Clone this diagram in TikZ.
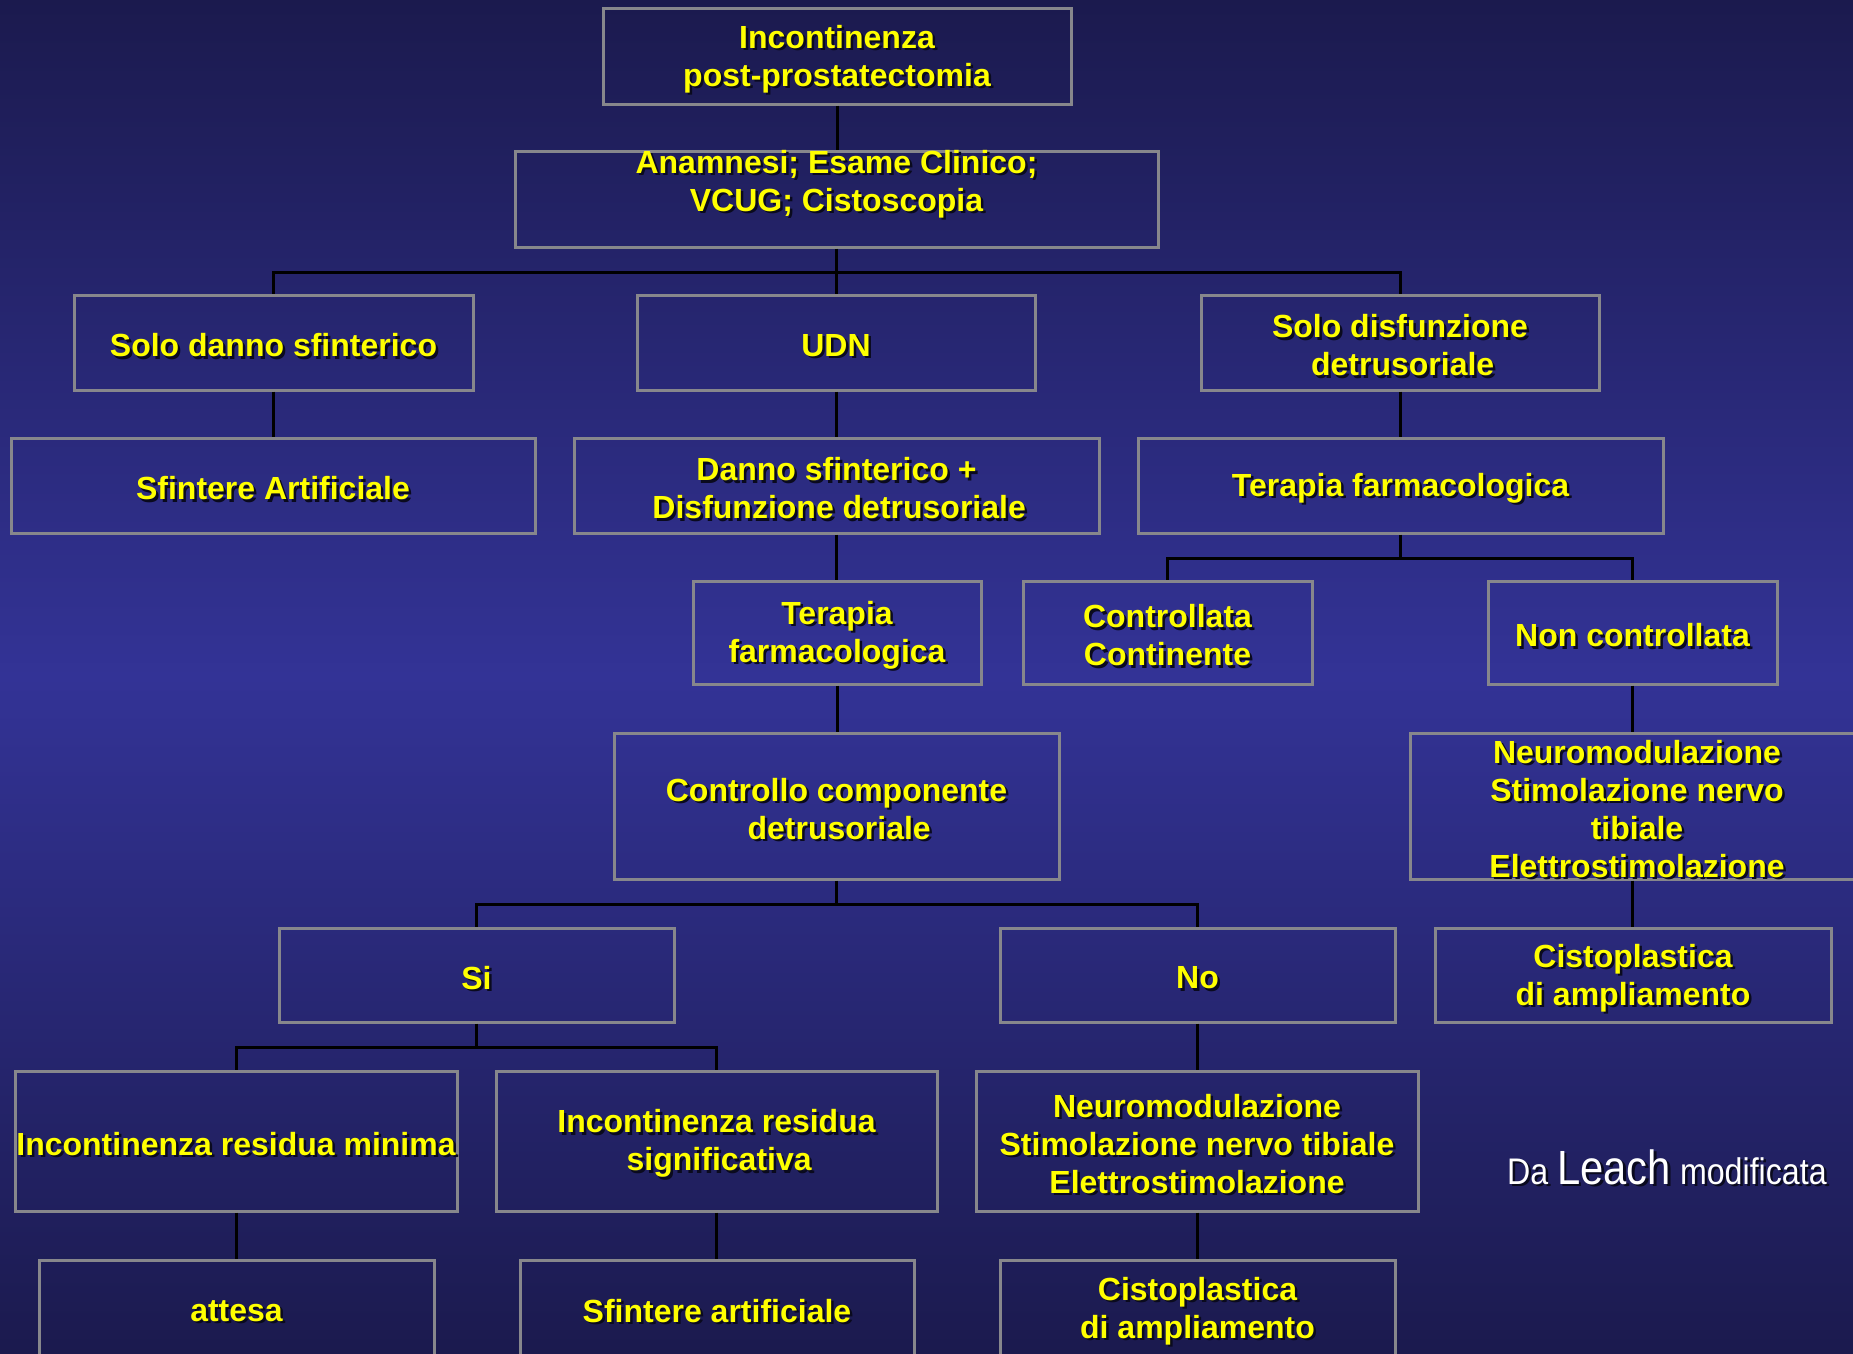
\documentclass[tikz,border=0pt]{standalone}
\usepackage{fontspec}
\setmainfont{Liberation Sans}
\newfontfamily\narrowfont[FakeStretch=0.87]{Liberation Sans}
\definecolor{bgtop}{RGB}{27,26,78}
\definecolor{bgmid}{RGB}{51,51,150}
\definecolor{bgbot}{RGB}{27,26,78}
\definecolor{boxgray}{RGB}{135,135,140}
\definecolor{textyellow}{RGB}{255,255,0}
\definecolor{shadowc}{RGB}{10,10,30}
\newcommand\sh[1]{\leavevmode\rlap{\hspace{2.5pt}\raisebox{-2.5pt}{\textcolor{shadowc}{#1}}}#1}
\begin{document}
\begin{tikzpicture}[x=1pt,y=-1pt,
  bx/.style={draw=boxgray,line width=3pt,inner sep=0pt},
  txt/.style={text=textyellow,font=\bfseries\fontsize{32}{38}\selectfont,align=center,inner sep=0pt,yshift=-4pt},
  con/.style={draw=black,line width=3pt}]
\useasboundingbox (0,0) rectangle (1853,1353);
\clip (0,0) rectangle (1853,1353);
\shade[top color=bgtop,bottom color=bgbot,middle color=bgmid] (0,0) rectangle (1853,1353);

% boxes
\node[bx,minimum width=468,minimum height=96,label={[txt]center:{\sh{Incontinenza}\\\sh{post-prostatectomia}}}] (top) at (837,56) {};
\node[bx,minimum width=643,minimum height=96,label={[txt,yshift=18pt]center:{\sh{Anamnesi; Esame Clinico;}\\\sh{VCUG; Cistoscopia}}}] (an) at (836.5,199) {};
\node[bx,minimum width=399,minimum height=95,label={[txt]center:{\sh{Solo danno sfinterico}}}] (sd) at (273.5,342.5) {};
\node[bx,minimum width=398,minimum height=95,label={[txt]center:{\sh{UDN}}}] (udn) at (836,342.5) {};
\node[bx,minimum width=398,minimum height=95,label={[txt]center:{\sh{Solo disfunzione}\\\sh{\,detrusoriale}}}] (sdis) at (1400,342.5) {};
\node[bx,minimum width=524,minimum height=95,label={[txt]center:{\sh{Sfintere Artificiale}}}] (sa) at (273,485.5) {};
\node[bx,minimum width=525,minimum height=95,label={[txt]center:{\sh{Danno sfinterico +}\\\sh{\,Disfunzione detrusoriale}}}] (dsd) at (836.5,485.5) {};
\node[bx,minimum width=525,minimum height=95,label={[txt]center:{\sh{Terapia farmacologica}}}] (tfr) at (1400.5,485.5) {};
\node[bx,minimum width=288,minimum height=103,label={[txt]center:{\sh{Terapia}\\\sh{farmacologica}}}] (tfc) at (837,632.5) {};
\node[bx,minimum width=289,minimum height=103,label={[txt]center:{\sh{Controllata}\\\sh{Continente}}}] (cc) at (1167.5,632.5) {};
\node[bx,minimum width=289,minimum height=103,label={[txt]center:{\sh{Non controllata}}}] (nc) at (1632.5,632.5) {};
\node[bx,minimum width=445,minimum height=146,label={[txt]center:{\sh{Controllo componente}\\\sh{\,detrusoriale}}}] (ccd) at (836.5,806) {};
\node[bx,minimum width=454,minimum height=146,label={[txt]center:{\sh{Neuromodulazione}\\\sh{Stimolazione nervo}\\\sh{tibiale}\\\sh{Elettrostimolazione}}}] (nm) at (1637,806) {};
\node[bx,minimum width=395,minimum height=94,label={[txt]center:{\sh{Si}}}] (si) at (476.5,975) {};
\node[bx,minimum width=395,minimum height=94,label={[txt]center:{\sh{No}}}] (no) at (1197.5,975) {};
\node[bx,minimum width=396,minimum height=94,label={[txt]center:{\sh{Cistoplastica}\\\sh{di ampliamento}}}] (cisr) at (1633,975) {};
\node[bx,minimum width=442,minimum height=140,label={[txt]center:{\sh{Incontinenza residua minima}}}] (irm) at (236,1141) {};
\node[bx,minimum width=441,minimum height=140,label={[txt]center:{\sh{Incontinenza residua}\\\sh{\,significativa}}}] (irs) at (716.5,1141) {};
\node[bx,minimum width=442,minimum height=140,label={[txt]center:{\sh{Neuromodulazione}\\\sh{Stimolazione nervo tibiale}\\\sh{Elettrostimolazione}}}] (nmn) at (1197,1141) {};
\node[bx,minimum width=395,minimum height=96,label={[txt]center:{\sh{attesa}}}] (att) at (236.5,1308) {};
\node[bx,minimum width=394,minimum height=96,label={[txt]center:{\sh{Sfintere artificiale}}}] (sfa) at (717,1308) {};
\node[bx,minimum width=395,minimum height=96,label={[txt]center:{\sh{Cistoplastica}\\\sh{di ampliamento}}}] (cisn) at (1197.5,1308) {};

% junctions
\coordinate (h1) at (836.5,272);
\coordinate (h2) at (1400.5,558);
\coordinate (h3) at (836.5,904);
\coordinate (h4) at (476.5,1047);

% connectors
\draw[con] (top.south) -- (top.south |- an.north);
\draw[con] (an.south) -- (h1);
\draw[con] (sd.north) |- (h1) -| (sdis.north);
\draw[con] (udn.north) -- (udn.north |- h1);
\draw[con] (sd.south) -- (sd.south |- sa.north);
\draw[con] (udn.south) -- (udn.south |- dsd.north);
\draw[con] (sdis.south) -- (sdis.south |- tfr.north);
\draw[con] (dsd.south) -- (dsd.south |- tfc.north);
\draw[con] (tfr.south) -- (h2);
\draw[con] (cc.north) |- (h2) -| (nc.north);
\draw[con] (tfc.south) -- (tfc.south |- ccd.north);
\draw[con] (nc.south) -- (nc.south |- nm.north);
\draw[con] (nc.south |- nm.south) -- (nc.south |- cisr.north);
\draw[con] (ccd.south) -- (h3);
\draw[con] (si.north) |- (h3) -| (no.north);
\draw[con] (si.south) -- (h4);
\draw[con] (irm.north) |- (h4) -| (irs.north);
\draw[con] (no.south) -- (no.south |- nmn.north);
\draw[con] (irm.south) -- (irm.south |- att.north);
\draw[con] (irs.south) -- (irs.south |- sfa.north);
\draw[con] (nmn.south) -- (nmn.south |- cisn.north);

% source note
\node[anchor=base west,inner sep=0pt,text=white,font=\narrowfont] (src) at (1507,1184)
  {\fontsize{37}{40}\selectfont\sh{Da} {\fontsize{48}{50}\selectfont\sh{Leach}} \sh{modificata}};
\end{tikzpicture}
\end{document}
